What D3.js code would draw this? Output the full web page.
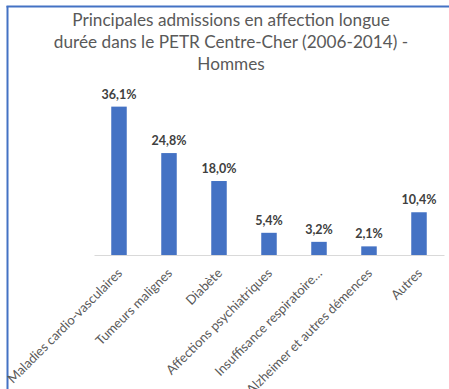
<!DOCTYPE html>
<html lang="fr">
<head>
    <meta charset="UTF-8">
    <script src="https://d3js.org/d3.v7.min.js"></script>
    <style>
        body { margin: 0; background: #fff; }
        svg { display: block; font-family: Lato, "Open Sans", sans-serif; }
    </style>
</head>
<body>
    <svg width="449" height="389"></svg>
    <script>
        const categories = [
            'Maladies cardio-vasculaires',
            'Tumeurs malignes',
            'Diabète',
            'Affections psychiatriques',
            'Insuffisance respiratoire…',
            'Alzheimer et autres démences',
            'Autres'
        ];
        const values = [36.1, 24.8, 18.0, 5.4, 3.2, 2.1, 10.4];
        const titleLines = [
            'Principales admissions en affection longue',
            'durée dans le PETR Centre-Cher (2006-2014) -',
            'Hommes'
        ];

        const svg = d3.select('svg');

        // cadre bleu (bord gauche et haut)
        svg.append('line')
            .attr('x1', 7.5).attr('x2', 7.5).attr('y1', 6).attr('y2', 389)
            .attr('stroke', '#4472c4').attr('stroke-width', 2);
        svg.append('line')
            .attr('x1', 6.5).attr('x2', 449).attr('y1', 6.5).attr('y2', 6.5)
            .attr('stroke', '#4472c4').attr('stroke-width', 2);

        svg.append('g')
            .selectAll('text')
            .data(titleLines)
            .enter().append('text')
            .attr('x', 231)
            .attr('y', (d, i) => 26 + i * 22)
            .attr('text-anchor', 'middle')
            .attr('fill', '#595959')
            .attr('font-size', '17.2px')
            .text(d => d);

        const baseline = 255;
        const xScale = d3.scaleBand()
            .domain(categories)
            .range([94, 444])
            .paddingInner(0.69)
            .paddingOuter(0.345);

        const yScale = d3.scaleLinear()
            .domain([0, 40])
            .range([baseline, baseline - 164.4]);

        svg.append('g')
            .selectAll('rect')
            .data(values)
            .enter().append('rect')
            .attr('x', (d, i) => xScale(categories[i]))
            .attr('y', d => yScale(d))
            .attr('width', xScale.bandwidth())
            .attr('height', d => baseline - yScale(d))
            .attr('fill', '#4472c4');

        svg.append('g')
            .selectAll('text')
            .data(values)
            .enter().append('text')
            .attr('x', (d, i) => xScale(categories[i]) + xScale.bandwidth() / 2)
            .attr('y', d => yScale(d) - 8)
            .attr('text-anchor', 'middle')
            .attr('fill', '#404040')
            .attr('font-size', '12.5px')
            .attr('font-weight', 'bold')
            .text(d => d.toFixed(1).replace('.', ',') + '%');

        const xAxis = d3.axisBottom(xScale).tickSize(0).tickPadding(0);
        const gx = svg.append('g')
            .attr('transform', `translate(0, ${baseline})`)
            .call(xAxis);
        gx.select('.domain').attr('stroke', '#d9d9d9').attr('stroke-width', 1.2);
        gx.selectAll('text')
            .attr('font-family', 'Lato, sans-serif')
            .attr('font-size', '13px')
            .attr('fill', '#595959')
            .attr('text-anchor', 'end')
            .attr('dy', null)
            .attr('y', 0)
            .attr('transform', 'translate(4, 19) rotate(-45)');
    </script>
</body>
</html>
